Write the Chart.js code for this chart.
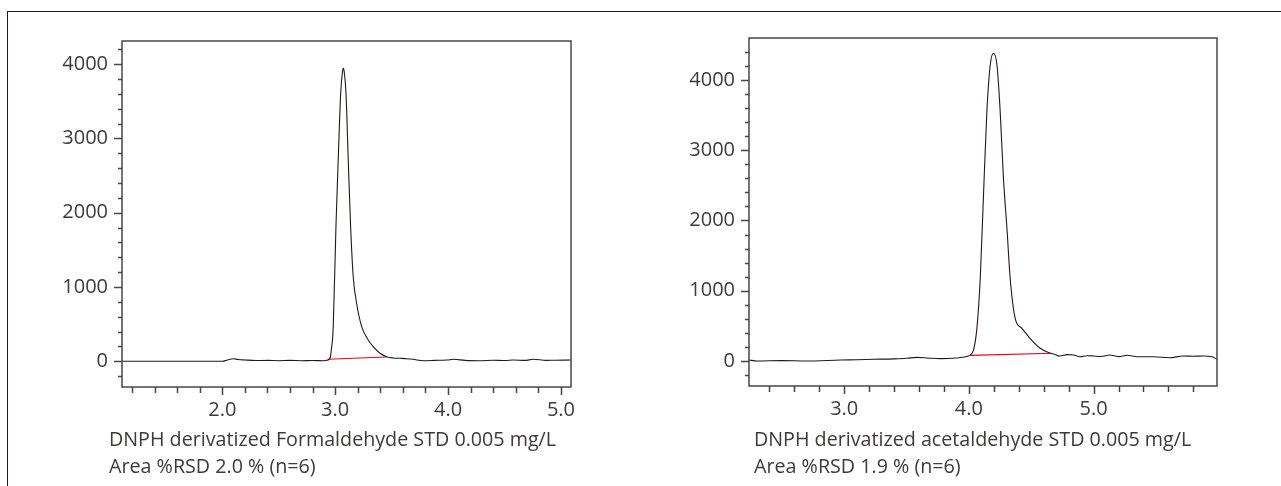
<!DOCTYPE html>
<html>
<head>
<meta charset="utf-8">
<script src="https://cdn.jsdelivr.net/npm/chart.js@4/dist/chart.umd.min.js"></script>
<style>
  html, body { margin: 0; padding: 0; background: #fff; }
  body { width: 1281px; height: 486px; position: relative; overflow: hidden; font-family: "Open Sans", sans-serif; }
  .wrap { position: absolute; top: 0; height: 486px; }
  #frameTop { position: absolute; left: 8px; top: 11px; width: 1273px; height: 0; border-top: 1.5px solid #231815; }
  #frameLeft { position: absolute; left: 7px; top: 11px; width: 0; height: 475px; border-left: 1.5px solid #231815; }
  .cap { position: absolute; top: 426px; font-size: 19.7px; line-height: 26.7px; color: #3e3a39; white-space: nowrap; }
</style>
</head>
<body>
<div id="frameTop"></div>
<div id="frameLeft"></div>
<div class="wrap" style="left:0;width:640px;"><canvas id="c1" width="640" height="486"></canvas></div>
<div class="wrap" style="left:640px;width:641px;"><canvas id="c2" width="641" height="486"></canvas></div>
<div class="cap" style="left:109px;">DNPH derivatized Formaldehyde STD 0.005 mg/L<br>Area %RSD 2.0 % (n=6)</div>
<div class="cap" style="left:754px;">DNPH derivatized acetaldehyde STD 0.005 mg/L<br>Area %RSD 1.9 % (n=6)</div>
<script>
// ---- Data: formaldehyde chromatogram (time in min, signal) ----
const formTime = [1.112, 1.5, 2.0, 2.04, 2.08, 2.10, 2.14, 2.2, 2.3, 2.4, 2.5, 2.6, 2.7, 2.8, 2.9, 2.93, 2.955, 2.965, 2.983, 3.007, 3.027, 3.049, 3.065, 3.072, 3.08, 3.096, 3.116, 3.137, 3.16, 3.19, 3.235, 3.293, 3.337, 3.397, 3.456, 3.515, 3.574, 3.63, 3.69, 3.78, 3.88, 3.99, 4.05, 4.15, 4.28, 4.4, 4.5, 4.58, 4.68, 4.755, 4.87, 4.95, 5.089];
const formSignal = [0, 0, 0, 15, 30, 35, 25, 18, 10, 12, 8, 12, 8, 10, 8, 15, 40, 140, 466, 1812, 2709, 3607, 3900, 3943, 3900, 3607, 2709, 1812, 1139, 781, 466, 287, 197, 108, 62, 45, 40, 35, 27, 8, 12, 17, 27, 12, 8, 15, 10, 17, 12, 27, 13, 15, 17];
const formBaseTime = [2.933, 3.456];
const formBaseSignal = [27, 58];
const formXRange = [1.112, 5.089];
const formYRange = [-346, 4311];

// ---- Data: acetaldehyde chromatogram ----
const acetTime = [2.236, 2.30, 2.5, 2.7, 2.97, 3.1, 3.235, 3.4, 3.5, 3.58, 3.68, 3.77, 3.9, 3.997, 4.01, 4.037, 4.064, 4.091, 4.117, 4.144, 4.171, 4.197, 4.225, 4.251, 4.277, 4.305, 4.331, 4.371, 4.425, 4.49, 4.572, 4.652, 4.68, 4.73, 4.79, 4.84, 4.89, 4.95, 5.0, 5.06, 5.13, 5.2, 5.27, 5.35, 5.48, 5.61, 5.72, 5.8, 5.88, 5.95, 5.99];
const acetSignal = [14, 0, 5, 0, 14, 18, 24, 30, 38, 52, 40, 33, 43, 71, 85, 157, 465, 1177, 2363, 3549, 4214, 4380, 4214, 3549, 2600, 1889, 1177, 608, 465, 323, 181, 110, 100, 71, 90, 85, 61, 75, 71, 65, 85, 62, 81, 60, 61, 47, 71, 68, 71, 60, 24];
const acetBaseTime = [4.01, 4.666];
const acetBaseSignal = [80, 110];
const acetXRange = [2.236, 5.99];
const acetYRange = [-356, 4598];

const xStep = 0.2, yStep = 200, xMajor = 1, yMajor = 1000;

Chart.defaults.font.family = '"Open Sans", sans-serif';
Chart.defaults.font.size = 20;
Chart.defaults.color = '#3e3a39';

const pts = (xs, ys) => xs.map((x, i) => ({ x, y: ys[i] }));
const isMult = (v, m) => Math.abs(v / m - Math.round(v / m)) < 1e-6;

const boxAndTicks = {
  id: 'boxAndTicks',
  afterDraw(chart) {
    const { ctx, chartArea: a } = chart;
    const xs = chart.scales.x, ys = chart.scales.y;
    ctx.save();
    ctx.strokeStyle = '#4a4545';
    ctx.lineWidth = 1.5;
    ctx.beginPath();
    ctx.rect(a.left, a.top, a.right - a.left, a.bottom - a.top);
    xs.ticks.forEach((t, i) => {
      const px = Math.round(xs.getPixelForTick(i)) + 0.5;
      const len = isMult(t.value, xMajor) ? 8 : 6;
      ctx.moveTo(px, a.bottom); ctx.lineTo(px, a.bottom + len);
    });
    ys.ticks.forEach((t, i) => {
      const py = Math.round(ys.getPixelForTick(i)) + 0.5;
      const len = isMult(t.value, yMajor) ? 8 : 4;
      ctx.moveTo(a.left, py); ctx.lineTo(a.left - len, py);
    });
    ctx.stroke();
    ctx.restore();
  }
};

function makeChart(id, time, signal, bTime, bSignal, xr, yr, yAxisW, padRight, padTop, bottomY) {
  const xAxisH = 40;
  return new Chart(document.getElementById(id), {
    type: 'line',
    data: {
      datasets: [
        { data: pts(time, signal), borderColor: '#231815', borderWidth: 1.1, pointRadius: 0, cubicInterpolationMode: 'monotone', fill: false },
        { data: pts(bTime, bSignal), borderColor: '#e60012', borderWidth: 1.1, pointRadius: 0, fill: false }
      ]
    },
    options: {
      responsive: false,
      animation: false,
      events: [],
      layout: { padding: { left: 0, top: padTop, right: padRight, bottom: 486 - bottomY - xAxisH } },
      plugins: { legend: { display: false }, tooltip: { enabled: false } },
      scales: {
        x: {
          type: 'linear', min: xr[0], max: xr[1],
          grid: { drawOnChartArea: false, drawTicks: false },
          border: { display: false },
          afterFit: s => { s.height = xAxisH; },
          ticks: {
            stepSize: xStep, includeBounds: false, autoSkip: false, maxRotation: 0, padding: 11,
            callback: v => isMult(v, xMajor) ? v.toFixed(1) : ''
          }
        },
        y: {
          type: 'linear', min: yr[0], max: yr[1],
          grid: { drawOnChartArea: false, drawTicks: false },
          border: { display: false },
          afterFit: s => { s.width = yAxisW; },
          ticks: {
            stepSize: yStep, includeBounds: false, autoSkip: false, padding: 14,
            callback: v => isMult(v, yMajor) ? String(Math.round(v)) : ''
          }
        }
      }
    },
    plugins: [boxAndTicks]
  });
}

makeChart('c1', formTime, formSignal, formBaseTime, formBaseSignal, formXRange, formYRange, 122, 69, 41, 387);
makeChart('c2', acetTime, acetSignal, acetBaseTime, acetBaseSignal, acetXRange, acetYRange, 109, 64, 38, 386);
</script>
</body>
</html>
